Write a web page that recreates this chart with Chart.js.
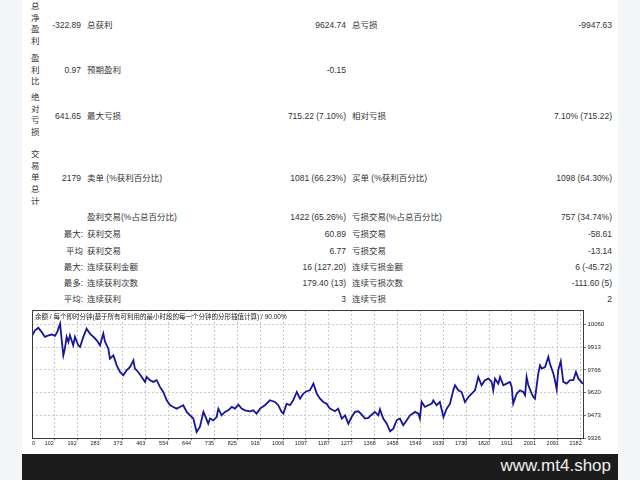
<!DOCTYPE html>
<html>
<head>
<meta charset="utf-8">
<script src="https://cdn.jsdelivr.net/npm/chart.js@4.4.1/dist/chart.umd.min.js"></script>
<style>
html, body { margin: 0; padding: 0; }
body { width: 640px; height: 480px; background: #f4f5f7; position: relative; overflow: hidden;
       font-family: "Liberation Sans", "Noto Sans CJK SC", sans-serif; font-size: 8.5px; color: #333; }
#page { position: absolute; left: 22px; top: 0; width: 596px; height: 454px; background: #fff; }
#foot { position: absolute; left: 22px; top: 454px; width: 596px; height: 26px; background: #1c1c1c; }
#foot span { position: absolute; right: 7px; top: 2px; color: #eee; font: 17px "Liberation Sans", sans-serif; }
.t { position: absolute; white-space: nowrap; line-height: 12px; }
.v { position: absolute; left: 31px; width: 10px; line-height: 11.7px; word-break: break-all; }
.c1 { left: 30px; width: 51px; text-align: right; }
.m1 { left: 40px; width: 43px; text-align: right; }
.l1 { left: 87px; }
.c2 { left: 200px; width: 146px; text-align: right; }
.l2 { left: 352px; }
.c3 { left: 450px; width: 162px; text-align: right; }
#ttl { position: absolute; left: 35px; top: 312px; font-size: 6.5px; line-height: 9px; color: #222; white-space: nowrap; }
canvas { position: absolute; left: 0; top: 300px; }
</style>
</head>
<body>
<div id="page"></div>

<div class="v" style="top:1px">总净盈利</div>
<div class="t c1" style="top:19px">-322.89</div>
<div class="t l1" style="top:19px">总获利</div>
<div class="t c2" style="top:19px">9624.74</div>
<div class="t l2" style="top:19px">总亏损</div>
<div class="t c3" style="top:19px">-9947.63</div>

<div class="v" style="top:53px">盈利比</div>
<div class="t c1" style="top:64px">0.97</div>
<div class="t l1" style="top:64px">预期盈利</div>
<div class="t c2" style="top:64px">-0.15</div>

<div class="v" style="top:92px">绝对亏损</div>
<div class="t c1" style="top:110px">641.65</div>
<div class="t l1" style="top:110px">最大亏损</div>
<div class="t c2" style="top:110px">715.22 (7.10%)</div>
<div class="t l2" style="top:110px">相对亏损</div>
<div class="t c3" style="top:110px">7.10% (715.22)</div>

<div class="v" style="top:149px">交易单总计</div>
<div class="t c1" style="top:172px">2179</div>
<div class="t l1" style="top:172px">卖单 (%获利百分比)</div>
<div class="t c2" style="top:172px">1081 (66.23%)</div>
<div class="t l2" style="top:172px">买单 (%获利百分比)</div>
<div class="t c3" style="top:172px">1098 (64.30%)</div>

<div class="t l1" style="top:211px">盈利交易(%占总百分比)</div>
<div class="t c2" style="top:211px">1422 (65.26%)</div>
<div class="t l2" style="top:211px">亏损交易(%占总百分比)</div>
<div class="t c3" style="top:211px">757 (34.74%)</div>

<div class="t m1" style="top:228px">最大:</div>
<div class="t l1" style="top:228px">获利交易</div>
<div class="t c2" style="top:228px">60.89</div>
<div class="t l2" style="top:228px">亏损交易</div>
<div class="t c3" style="top:228px">-58.61</div>

<div class="t m1" style="top:244.5px">平均</div>
<div class="t l1" style="top:244.5px">获利交易</div>
<div class="t c2" style="top:244.5px">6.77</div>
<div class="t l2" style="top:244.5px">亏损交易</div>
<div class="t c3" style="top:244.5px">-13.14</div>

<div class="t m1" style="top:260.7px">最大:</div>
<div class="t l1" style="top:260.7px">连续获利金额</div>
<div class="t c2" style="top:260.7px">16 (127.20)</div>
<div class="t l2" style="top:260.7px">连续亏损金额</div>
<div class="t c3" style="top:260.7px">6 (-45.72)</div>

<div class="t m1" style="top:276.7px">最多:</div>
<div class="t l1" style="top:276.7px">连续获利次数</div>
<div class="t c2" style="top:276.7px">179.40 (13)</div>
<div class="t l2" style="top:276.7px">连续亏损次数</div>
<div class="t c3" style="top:276.7px">-111.60 (5)</div>

<div class="t m1" style="top:293px">平均:</div>
<div class="t l1" style="top:293px">连续获利</div>
<div class="t c2" style="top:293px">3</div>
<div class="t l2" style="top:293px">连续亏损</div>
<div class="t c3" style="top:293px">2</div>

<canvas id="balance-chart" width="640" height="154"></canvas>
<div id="ttl">余额 / 每个即时分钟(基于所有可利用的最小时段的每一个分钟的分形插值计算) / 90.00%</div>

<div id="foot"><span>www.mt4.shop</span></div>

<script>
const tradeNo = [
    0, 12, 25, 38, 51, 65, 78, 91, 100, 111,
    117, 124, 130, 137, 144, 150, 163, 170, 183, 190,
    203, 216, 229, 243, 256, 269, 282, 289, 302, 308,
    322, 335, 348, 361, 374, 388, 401, 407, 420, 434,
    447, 453, 467, 480, 493, 506, 519, 533, 546, 559,
    572, 585, 598, 612, 625, 638, 651, 664, 678, 684,
    697, 704, 717, 730, 737, 750, 763, 776, 790, 803,
    816, 829, 842, 862, 875, 888, 902, 921, 941, 961,
    974, 987, 994, 1007, 1020, 1033, 1047, 1060, 1073, 1086,
    1099, 1113, 1126, 1139, 1152, 1165, 1178, 1198, 1211, 1225,
    1238, 1251, 1264, 1277, 1291, 1304, 1317, 1330, 1343, 1356,
    1370, 1376, 1389, 1403, 1416, 1429, 1442, 1455, 1468, 1482,
    1495, 1515, 1528, 1534, 1541, 1554, 1567, 1581, 1587, 1600,
    1613, 1627, 1640, 1653, 1666, 1673, 1686, 1699, 1712, 1726,
    1739, 1752, 1765, 1778, 1791, 1805, 1818, 1824, 1831, 1844,
    1851, 1864, 1877, 1890, 1897, 1903, 1917, 1930, 1943, 1950,
    1956, 1963, 1976, 1983, 1989, 1996, 2002, 2009, 2016, 2029,
    2042, 2048, 2062, 2068, 2075, 2081, 2091, 2101, 2114, 2128,
    2141, 2151, 2161, 2179
]

const balance = [
    9985, 10021, 10037, 10011, 9979, 9989, 9994, 9985, 10011, 10064,
    9968, 9860, 9903, 9979, 9946, 9989, 9925, 9979, 9925, 9914,
    9979, 10032, 10000, 9979, 9957, 9925, 10000, 9946, 9903, 9839,
    9860, 9796, 9753, 9732, 9764, 9785, 9828, 9775, 9753, 9721,
    9689, 9721, 9700, 9689, 9700, 9657, 9624, 9571, 9539, 9528,
    9517, 9528, 9539, 9496, 9474, 9453, 9367, 9399, 9496, 9474,
    9420, 9453, 9442, 9463, 9517, 9474, 9496, 9506, 9528, 9517,
    9543, 9517, 9506, 9500, 9506, 9485, 9517, 9539, 9571, 9560,
    9539, 9496, 9485, 9549, 9539, 9571, 9624, 9581, 9614, 9629,
    9635, 9678, 9614, 9581, 9560, 9549, 9517, 9500, 9517, 9453,
    9474, 9420, 9463, 9496, 9500, 9478, 9453, 9457, 9478, 9496,
    9474, 9513, 9453, 9420, 9371, 9388, 9442, 9453, 9410, 9442,
    9474, 9496, 9485, 9453, 9560, 9528, 9539, 9549, 9571, 9539,
    9560, 9463, 9517, 9549, 9635, 9667, 9635, 9624, 9560, 9592,
    9614, 9635, 9721, 9667, 9700, 9710, 9689, 9635, 9710, 9678,
    9721, 9667, 9678, 9689, 9657, 9549, 9614, 9635, 9624, 9603,
    9721, 9667, 9614, 9592, 9581, 9667, 9742, 9796, 9775, 9785,
    9850, 9807, 9742, 9700, 9642, 9764, 9822, 9689, 9678, 9700,
    9700, 9753, 9710, 9677
]

const xTickLabels = ['0', '102', '192', '283', '373', '463', '554', '644', '735', '825', '916', '1006',
    '1097', '1187', '1277', '1368', '1458', '1549', '1639', '1730', '1820', '1911', '2001', '2091', '2182']
const yTickValues = [9326, 9472.8, 9619.6, 9766.4, 9913.2, 10060]
const yTickLabels = ['9326', '9473', '9620', '9766', '9913', '10060']

// grid in the MT4 picture sits at a fixed pixel step, first label hugs the left edge
const xTickPos = xTickLabels.map((l, i) => i === 0 ? 26 : 88 + (i - 1) * 90.5)

const frame = {
    id: 'frame',
    afterDatasetsDraw(chart) {
        const {ctx, chartArea: a} = chart
        ctx.save()
        ctx.strokeStyle = '#3a3a3a'
        ctx.lineWidth = 1
        ctx.beginPath()
        ctx.moveTo(Math.round(a.left) + 0.5, Math.round(a.bottom))
        ctx.lineTo(Math.round(a.left) + 0.5, Math.round(a.top) + 0.5)
        ctx.lineTo(Math.round(a.right), Math.round(a.top) + 0.5)
        ctx.stroke()
        ctx.restore()
    }
}

new Chart(document.getElementById('balance-chart').getContext('2d'), {
    type: 'line',
    data: {
        datasets: [{
            data: tradeNo.map((n, i) => ({x: n, y: balance[i]})),
            borderColor: '#16169a',
            borderWidth: 1.8,
            pointRadius: 0,
            tension: 0
        }]
    },
    options: {
        responsive: false,
        animation: false,
        devicePixelRatio: 1,
        layout: {padding: {left: 32, top: 10, right: 0, bottom: 0}},
        plugins: {legend: {display: false}, tooltip: {enabled: false}},
        scales: {
            x: {
                type: 'linear',
                min: 0,
                max: 2179,
                afterBuildTicks: s => { s.ticks = xTickPos.map(v => ({value: v})) },
                afterFit: s => { s.height = 15.7 },
                ticks: {
                    autoSkip: false,
                    maxRotation: 0,
                    labelOffset: -5,
                    padding: 0,
                    color: '#222',
                    font: {size: 5.5, family: 'Liberation Sans'},
                    callback: (v, i) => xTickLabels[i]
                },
                grid: {
                    color: c => c.index === 0 ? 'rgba(0,0,0,0)' : '#c8c8c8',
                    tickColor: c => c.index === 0 ? 'rgba(0,0,0,0)' : '#777',
                    tickLength: 2
                },
                border: {color: '#3a3a3a', dash: [2, 2]}
            },
            y: {
                position: 'right',
                min: 9326,
                max: 10152,
                afterBuildTicks: s => { s.ticks = yTickValues.map(v => ({value: v})) },
                afterFit: s => { s.width = 57 },
                ticks: {
                    padding: 1.5,
                    color: '#222',
                    font: {size: 6, family: 'Liberation Sans'},
                    callback: (v, i) => yTickLabels[i]
                },
                grid: {color: '#c8c8c8', tickColor: '#777', tickLength: 3},
                border: {color: '#3a3a3a', dash: [2, 2]}
            }
        }
    },
    plugins: [frame]
})
</script>
</body>
</html>
